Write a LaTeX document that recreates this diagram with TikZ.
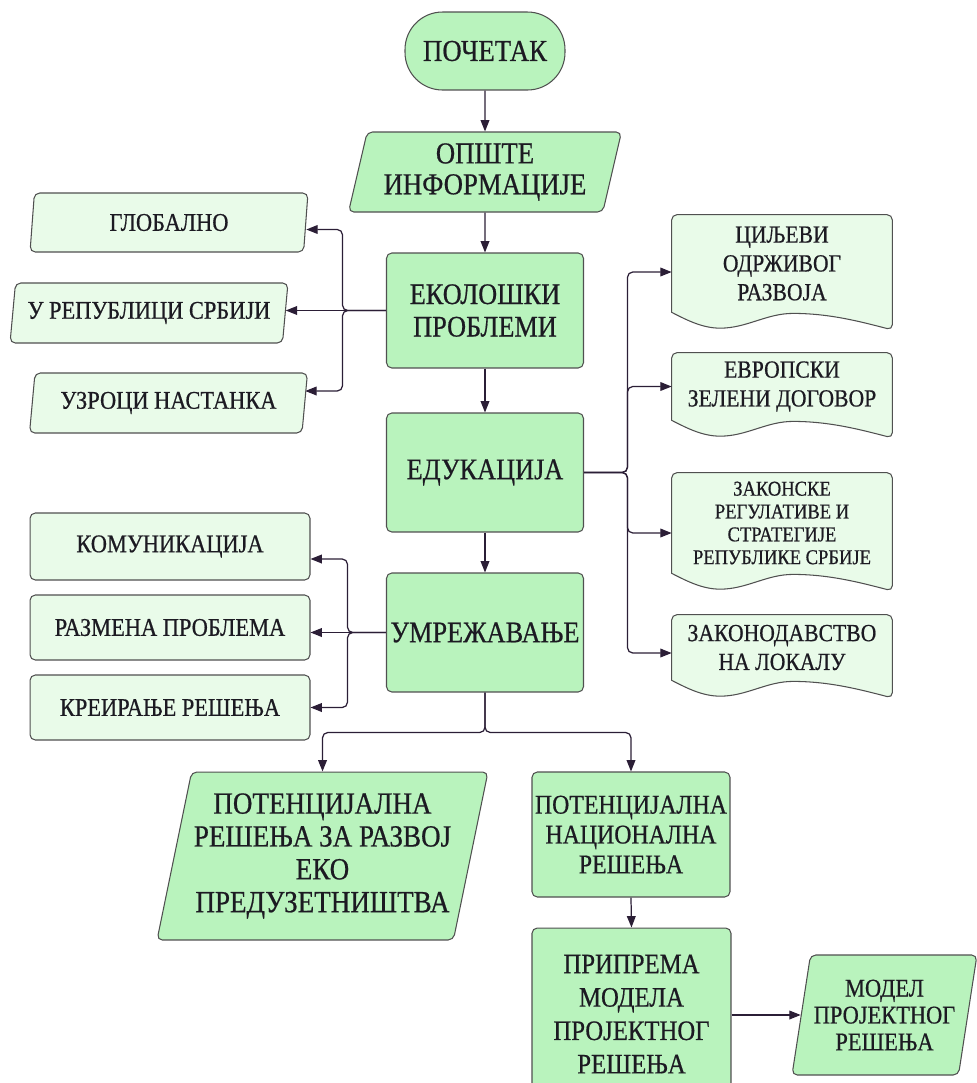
\documentclass[tikz,border=0pt]{standalone}
\usepackage{fontspec}
\setmainfont{Liberation Serif}[FakeStretch=0.88,FakeBold=0.6]
\usetikzlibrary{arrows.meta,shapes.geometric,backgrounds,calc}

\definecolor{maingreen}{HTML}{B9F3BD}
\definecolor{palegreen}{HTML}{E9FBE9}
\definecolor{edgegray}{HTML}{505050}
\definecolor{linedark}{HTML}{2B1E36}
\definecolor{inkdark}{HTML}{1C1A22}

\tikzset{
  box/.style={draw=edgegray, line width=0.6pt, text=inkdark, align=center, inner xsep=0pt, inner ysep=1pt},
  startbox/.style={box, fill=maingreen, rounded corners=0.75cm, minimum width=3.2cm, minimum height=1.56cm, font=\fontsize{17.3}{19}\selectfont},
  mainbox/.style={box, fill=maingreen, rounded corners=3pt, minimum width=3.94cm, font=\fontsize{17}{18.5}\selectfont},
  sidebox/.style={box, fill=palegreen, rounded corners=3pt, minimum width=5.6cm, font=\fontsize{14.5}{17}\selectfont},
  iobox/.style 2 args={box, trapezium, trapezium left angle=#1, trapezium right angle=#2,
    trapezium stretches body, rounded corners=3pt},
  docbox/.style={align=center, text=inkdark, minimum width=4.4cm, inner sep=0pt, font=\fontsize{14}{16.4}\selectfont},
  docedge/.style={draw=edgegray, line width=0.6pt, fill=palegreen},
  conn/.style={draw=linedark, line width=0.7pt, rounded corners=3pt, -{Triangle[length=6.5pt,width=5pt]}}
}

\begin{document}
\begin{tikzpicture}[x=0.02cm, y=-0.02cm]
  \useasboundingbox (0,0) rectangle (977,1083);
  \clip (0,0) rectangle (977,1083);

  \node[startbox] (start) at (485,51) {ПОЧЕТАК};
  \node[iobox={73}{107}, fill=maingreen, minimum width=5.46cm, minimum height=1.6cm,
    font=\fontsize{17.3}{17.6}\selectfont] (info) at (485,172) {ОПШТЕ\\ИНФОРМАЦИЈЕ};
  \node[mainbox, minimum height=2.3cm] (eko) at (485,310.5) {ЕКОЛОШКИ\\ПРОБЛЕМИ};
  \node[mainbox, minimum height=2.38cm] (edu) at (485,472.5) {ЕДУКАЦИЈА};
  \node[mainbox, minimum height=2.38cm] (umr) at (485,632.5) {УМРЕЖАВАЊЕ};

  \node[iobox={78}{102}, fill=palegreen, minimum width=5.56cm, minimum height=1.18cm,
    font=\fontsize{14.5}{17}\selectfont] (glob) at (169,222.5) {ГЛОБАЛНО};
  \node[iobox={78}{102}, fill=palegreen, minimum width=5.56cm, minimum height=1.2cm,
    font=\fontsize{14.5}{17}\selectfont] (rep) at (149,313) {У РЕПУБЛИЦИ СРБИЈИ};
  \node[iobox={78}{102}, fill=palegreen, minimum width=5.56cm, minimum height=1.2cm,
    font=\fontsize{14.5}{17}\selectfont] (uzr) at (168.5,403) {УЗРОЦИ НАСТАНКА};

  \node[docbox, minimum height=1.94cm] (cil) at (782,263.5) {ЦИЉЕВИ\\ОДРЖИВОГ\\РАЗВОЈА};
  \node[docbox, minimum height=1.34cm] (evr) at (782,386.5) {ЕВРОПСКИ\\ЗЕЛЕНИ ДОГОВОР};
  \node[docbox, minimum height=2cm, font=\fontsize{12}{13}\selectfont] (zak) at (782,523)
    {ЗАКОНСКЕ\\РЕГУЛАТИВЕ И\\СТРАТЕГИЈЕ\\РЕПУБЛИКЕ СРБИЈЕ};
  \node[docbox, minimum height=1.3cm] (lok) at (782,647.5) {ЗАКОНОДАВСТВО\\НА ЛОКАЛУ};

  \node[sidebox, minimum height=1.34cm] (kom) at (170,546.5) {КОМУНИКАЦИЈА};
  \node[sidebox, minimum height=1.3cm] (razm) at (170,627.5) {РАЗМЕНА ПРОБЛЕМА};
  \node[sidebox, minimum height=1.3cm] (krei) at (170,707.5) {КРЕИРАЊЕ РЕШЕЊА};

  \node[iobox={75}{105}, fill=maingreen, minimum width=6.62cm, minimum height=3.36cm,
    font=\fontsize{17.5}{18.7}\selectfont] (eco) at (322.5,856)
    {ПОТЕНЦИЈАЛНА\\РЕШЕЊА ЗА РАЗВОЈ\\ЕКО\\ПРЕДУЗЕТНИШТВА};
  \node[mainbox, minimum width=3.96cm, minimum height=2.5cm, font=\fontsize{15.4}{17}\selectfont]
    (nat) at (631,834.5) {ПОТЕНЦИЈАЛНА\\НАЦИОНАЛНА\\РЕШЕЊА};
  \node[mainbox, minimum width=3.98cm, minimum height=3.44cm, font=\fontsize{16}{19}\selectfont]
    (prip) at (631.5,1014) {ПРИПРЕМА\\МОДЕЛА\\ПРОЈЕКТНОГ\\РЕШЕЊА};
  \node[iobox={76}{104}, fill=maingreen, minimum width=3.7cm, minimum height=2.4cm,
    font=\fontsize{14.5}{15.3}\selectfont] (model) at (884.5,1015) {МОДЕЛ\\ПРОЈЕКТНОГ\\РЕШЕЊА};

  \begin{scope}[on background layer]
    \foreach \d in {cil,evr,zak,lok}
      \path[docedge] (\d.south west) [rounded corners=3pt] -- (\d.north west) -- (\d.north east)
        -- ([yshift=-10pt]\d.south east) [sharp corners]
        sin ($(\d.south west)!0.55!(\d.south east)+(0,-0.6pt)$)
        cos ($(\d.south west)!0.385!(\d.south east)+(0,-4.8pt)$)
        sin ($(\d.south west)!0.22!(\d.south east)+(0,-9pt)$)
        cos (\d.south west) -- cycle;
  \end{scope}

  \draw[conn] (start.south) -- (info.north);
  \draw[conn] (info.south) -- (eko.north);
  \draw[conn] (eko.south) -- (edu.north);
  \draw[conn] (edu.south) -- (umr.north);

  \coordinate (jeko) at ([xshift=-0.87cm]eko.west);
  \draw[conn] (eko.west) -- (jeko) |- ([yshift=-0.14cm]glob.right side);
  \draw[conn] (eko.west) -- (eko.west -| rep.right side);
  \draw[conn] (eko.west) -- (jeko) |- ([yshift=0.24cm]uzr.right side);

  \coordinate (jedu) at ([xshift=0.87cm]edu.east);
  \draw[conn] (edu.east) -- (jedu) |- ([yshift=-0.17cm]cil.west);
  \draw[conn] (edu.east) -- (jedu) |- (evr.west);
  \draw[conn] (edu.east) -- (jedu) |- ([yshift=-0.2cm]zak.west);
  \draw[conn] (edu.east) -- (jedu) |- ([yshift=-0.11cm]lok.west);

  \coordinate (jumr) at ([xshift=-0.77cm]umr.west);
  \draw[conn] (umr.west) -- (jumr) |- ([yshift=-0.25cm]kom.east);
  \draw[conn] (umr.west) -- (umr.west -| razm.east);
  \draw[conn] (umr.west) -- (jumr) |- (krei.east);

  \coordinate (jbot) at ([yshift=-0.8cm]umr.south);
  \draw[conn] (umr.south) -- (jbot) -| (eco.north);
  \draw[conn] (umr.south) -- (jbot) -| (nat.north);
  \draw[conn] (nat.south) -- (prip.north);
  \draw[conn] (prip.east |- model.left side) -- (model.left side);
\end{tikzpicture}
\end{document}
